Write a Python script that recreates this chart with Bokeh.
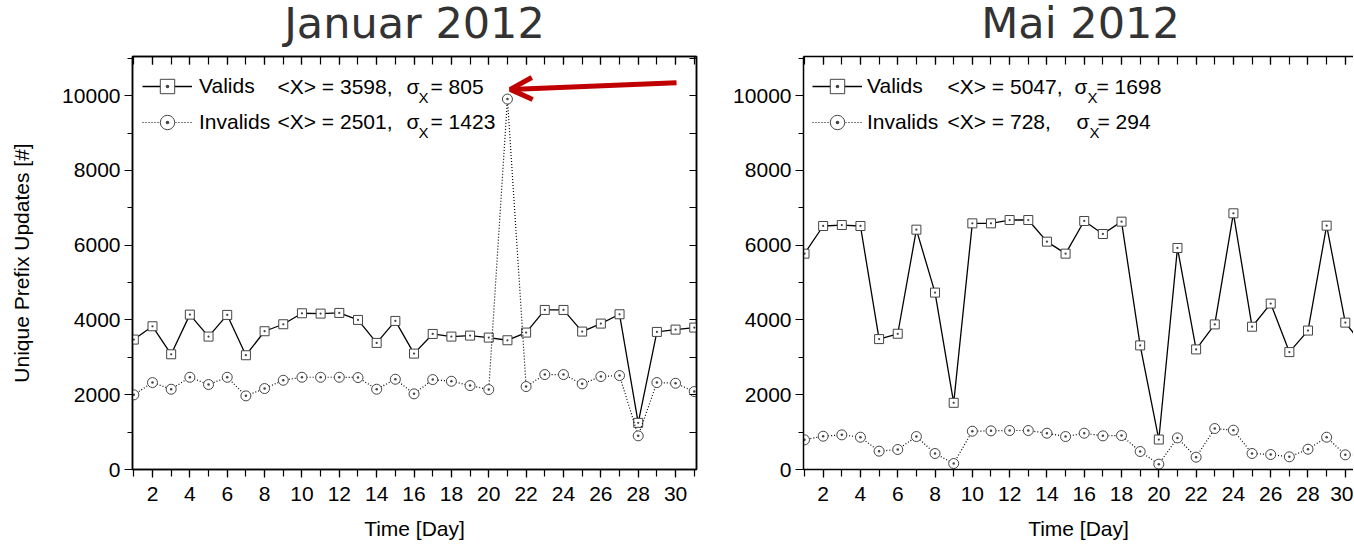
from bokeh.plotting import figure
from bokeh.layouts import row, column
from bokeh.models import (Range1d, LinearAxis, Legend, LegendItem, Label, Arrow,
                          OpenHead, SingleIntervalTicker, CustomJSTickFormatter)
from bokeh.embed import file_html
from bokeh.resources import INLINE

# ---------------- data ----------------
days = list(range(1, 32))
titles = ["Januar 2012", "Mai 2012"]
series_names = ["Valids", "Invalids"]

jan_valids = [3476, 3832, 3083, 4144, 3556, 4136, 3057, 3699, 3886, 4180,
              4171, 4189, 4002, 3387, 3975, 3101, 3627, 3556, 3583, 3529,
              3458, 3663, 4269, 4269, 3690, 3904, 4153, 1248, 3681, 3743, 3797]
jan_invalids = [1997, 2326, 2148, 2468, 2273, 2468, 1970, 2166, 2388, 2468,
                2468, 2468, 2460, 2148, 2415, 2024, 2406, 2361, 2246, 2139,
                9911, 2219, 2540, 2540, 2291, 2487, 2513, 900, 2326, 2308, 2086]
mai_valids = [5775, 6515, 6541, 6515, 3489, 3632, 6417, 4733, 1784, 6586,
              6586, 6675, 6675, 6096, 5775, 6649, 6301, 6631, 3320, 802,
              5927, 3213, 3882, 6854, 3820, 4439, 3141, 3717, 6524, 3930, 3300]
mai_invalids = [794, 891, 927, 864, 490, 535, 882, 428, 160, 1025,
                1034, 1043, 1043, 971, 882, 971, 900, 909, 481, 143,
                846, 330, 1096, 1052, 428, 401, 339, 543, 864, 392, 400]

jan_means = [3598, 2501]
jan_sigmas = [805, 1423]
mai_means = [5047, 728]
mai_sigmas = [1698, 294]

FONT = "Liberation Sans"
TITLE_H = 51
H = 544 - TITLE_H
TOP = 56 - TITLE_H
FRAME_H = 413
BOTTOM = H - TOP - FRAME_H
Y_END = 11050


def style_axis(ax):
    ax.axis_line_color = "black"
    ax.axis_line_width = 1.5
    ax.major_tick_line_color = "black"
    ax.minor_tick_line_color = "black"
    ax.major_tick_line_width = 1.2
    ax.minor_tick_line_width = 1.2
    ax.major_label_text_font = FONT
    ax.major_label_text_font_size = "21px"
    ax.major_label_text_color = "black"
    ax.axis_label_text_font = FONT
    ax.axis_label_text_font_size = "21px"
    ax.axis_label_text_font_style = "normal"
    ax.axis_label_text_color = "black"


def blank_axis(ax):
    ax.formatter = CustomJSTickFormatter(code="return ''")
    ax.major_label_text_font_size = "0px"
    ax.major_label_standoff = 0


def title_fig(text, width, center_x):
    t = figure(width=width, height=TITLE_H, output_backend="svg",
               toolbar_location=None, x_axis_type=None, y_axis_type=None,
               x_range=Range1d(0, 1), y_range=Range1d(0, 1),
               min_border=0, outline_line_color=None)
    t.xgrid.visible = False
    t.ygrid.visible = False
    t.add_layout(Label(x=center_x, y=29, x_units="screen", y_units="screen",
                       text=text, text_font="DejaVu Sans", text_font_size="43px",
                       text_align="center", text_baseline="alphabetic",
                       text_color="#333333"))
    return t


def panel(valids, invalids, means, sigmas, border_left, border_right,
          width, x_start, x_end, ylabel, outline, leg_x, leg_standoff, txt):
    p = figure(width=width, height=H, output_backend="svg", toolbar_location=None,
               x_range=Range1d(x_start, x_end), y_range=Range1d(0, Y_END),
               min_border_left=border_left, min_border_right=border_right,
               min_border_top=TOP, min_border_bottom=BOTTOM)
    p.xgrid.visible = False
    p.ygrid.visible = False
    p.background_fill_color = "white"
    p.border_fill_color = "white"
    if outline:
        p.outline_line_color = "black"
        p.outline_line_width = 1.5
    else:
        p.outline_line_color = None

    # axes
    xa = p.xaxis[0]
    xa.ticker = SingleIntervalTicker(interval=2, num_minor_ticks=2)
    style_axis(xa)
    xa.major_tick_out = 8
    xa.major_tick_in = 0
    xa.minor_tick_out = 7
    xa.minor_tick_in = 0
    xa.major_label_standoff = 9
    xa.axis_label = "Time [Day]"
    xa.axis_label_standoff = 13

    ya = p.yaxis[0]
    ya.ticker = SingleIntervalTicker(interval=2000, num_minor_ticks=2)
    style_axis(ya)
    ya.major_tick_out = 8
    ya.major_tick_in = 0
    ya.minor_tick_out = 5
    ya.minor_tick_in = 0
    ya.major_label_standoff = 4
    if ylabel:
        ya.axis_label = ylabel
        ya.axis_label_standoff = 26

    top = LinearAxis(ticker=SingleIntervalTicker(interval=2, num_minor_ticks=2))
    style_axis(top)
    blank_axis(top)
    top.major_tick_out = 0
    top.major_tick_in = 8
    top.minor_tick_out = 0
    top.minor_tick_in = 8
    p.add_layout(top, "above")

    if outline:
        right = LinearAxis(ticker=SingleIntervalTicker(interval=1000, num_minor_ticks=0))
        style_axis(right)
        blank_axis(right)
        right.major_tick_out = 0
        right.major_tick_in = 7
        p.add_layout(right, "right")

    # series
    lv = p.line(days, valids, line_color="black", line_width=1.3)
    sv = p.scatter(days, valids, marker="square_dot", size=9, fill_color="white",
                   line_color="#444444", line_width=1)
    li = p.line(days, invalids, line_color="black", line_width=1.2, line_dash="1 2")
    si = p.scatter(days, invalids, marker="circle_dot", size=10, fill_color="white",
                   line_color="#444444", line_width=1)

    legend = Legend(items=[LegendItem(label=series_names[0], renderers=[lv, sv]),
                           LegendItem(label=series_names[1], renderers=[li, si])],
                    location=(leg_x, FRAME_H - 12 - 72), glyph_width=50,
                    glyph_height=36, label_height=36, spacing=0, padding=0,
                    margin=0, border_line_color=None, background_fill_alpha=0,
                    label_standoff=leg_standoff, label_text_font=FONT,
                    label_text_font_size="21px", label_text_color="black")
    p.add_layout(legend, "center")

    # legend statistics text: <X> = mean, sigma_X = sd
    row_y = [FRAME_H - 30, FRAME_H - 65]
    for i in range(2):
        a_x, s_x, sub_x, eq_x = txt[i]
        y = row_y[i]
        p.add_layout(Label(x=a_x, y=y, x_units="screen", y_units="screen",
                           text="<X> = %d," % means[i], text_font=FONT,
                           text_font_size="21px", text_baseline="middle",
                           text_color="black"))
        p.add_layout(Label(x=s_x, y=y, x_units="screen", y_units="screen",
                           text="σ", text_font=FONT, text_font_size="21px",
                           text_baseline="middle", text_color="black"))
        p.add_layout(Label(x=sub_x, y=y - 11, x_units="screen", y_units="screen",
                           text="X", text_font=FONT, text_font_size="15px",
                           text_baseline="middle", text_color="black"))
        p.add_layout(Label(x=eq_x, y=y, x_units="screen", y_units="screen",
                           text="= %d" % sigmas[i], text_font=FONT,
                           text_font_size="21px", text_baseline="middle",
                           text_color="black"))
    return p


W1, W2 = 706, 647

p1 = panel(jan_valids, jan_invalids, jan_means, jan_sigmas,
           border_left=132, border_right=10, width=W1, x_start=0.93, x_end=31.12,
           ylabel="Unique Prefix Updates [#]", outline=True, leg_x=10,
           leg_standoff=7,
           txt=[(145, 274, 286, 298), (145, 274, 286, 298)])

# red arrow pointing at the January spike
p1.add_layout(Arrow(x_start=30.05, y_start=10350, x_end=21.15, y_end=10170,
                    line_color="#c00000", line_width=5,
                    end=OpenHead(line_color="#c00000", line_width=5, size=22)))

p2 = panel(mai_valids, mai_invalids, mai_means, mai_sigmas,
           border_left=97, border_right=0, width=W2, x_start=0.946, x_end=30.44,
           ylabel=None, outline=False, leg_x=9, leg_standoff=5,
           txt=[(144, 271, 284, 293), (144, 273, 286, 294)])

t1 = title_fig(titles[0], W1, 414)
t2 = title_fig(titles[1], W2, 1080 - W1)

layout = column(row(t1, t2), row(p1, p2))
open("out.html", "w").write(file_html(layout, INLINE))
